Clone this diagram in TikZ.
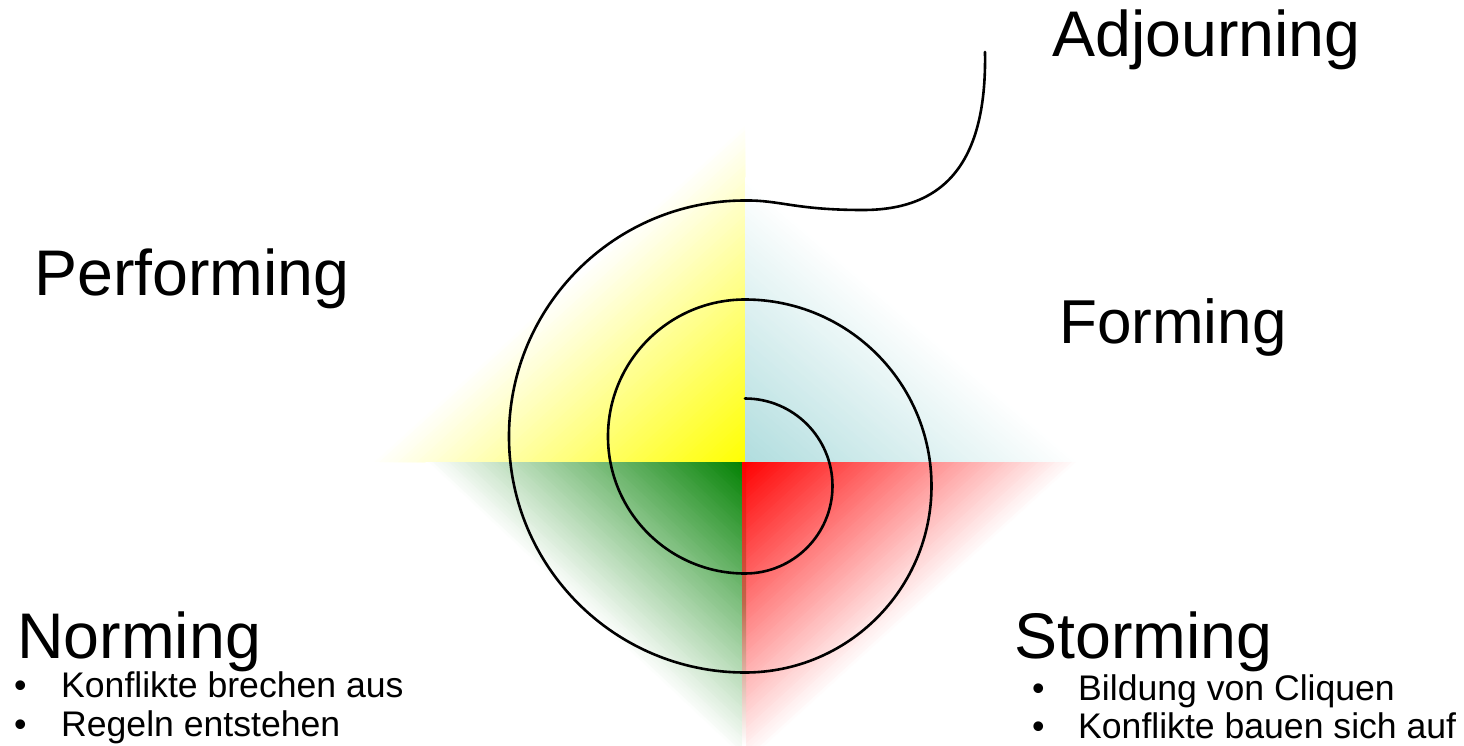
\documentclass[tikz,border=0pt]{standalone}
\usepackage{fontspec}
\setmainfont{Liberation Sans}

\definecolor{perfyellow}{RGB}{255,255,0}
\definecolor{formblue}{RGB}{176,221,222}
\definecolor{stormred}{RGB}{255,0,0}
\definecolor{normgreen}{RGB}{0,128,0}
\definecolor{seam}{RGB}{190,105,75}

% one quadrant, colour fading out towards the diagonal
\newcommand{\quadfade}[3]{
    \foreach \k in {80,79,...,1}{
        \pgfmathtruncatemacro{\mix}{100-(\k-0.5)*1.25}
        \fill[#1!\mix!white] (0,0) -- ({#2/80*\k},0) -- (0,{#3/80*\k}) -- cycle;
    }
}
\tikzset{x=1pt, y=1pt, every node/.append style={inner sep=0pt},
    bigname/.style={font=\fontsize{64.5}{72}\selectfont, anchor=base west},
    itemtext/.style={font=\fontsize{35.6}{40}\selectfont, anchor=base west},
    spiralline/.style={line width=2.6pt, line cap=round}}

\begin{document}
\begin{tikzpicture}
    \useasboundingbox (-745,-283) rectangle (719,462);
    % quadrants
    \quadfade{perfyellow}{-375}{340}
    \quadfade{formblue}{335}{285}
    \quadfade{normgreen}{-320}{-300}
    \quadfade{stormred}{335}{-305}
    \shade[top color=stormred, bottom color=white, middle color=seam] (-3,0) rectangle (1,-283);
    % spiral
    \draw[spiralline] (0,63.5) arc (90:-90:87.5) arc (270:90:137)
        arc (90:-90:186.5) arc (270:90:236)
        .. controls (35,262) and (50,252) .. (118,252)
        .. controls (200,252) and (242,300) .. (240,410) coordinate (tail);
    % stages
    \node[bigname] (adjourning) at (307,405) {Adjourning};
    \node[bigname] (performing) at (-711,167) {Performing};
    \node[bigname, font=\fontsize{62}{70}\selectfont] (forming) at (314,119) {Forming};
    \node[bigname] (norming) at (-728,-196) {Norming};
    \node[bigname] (storming) at (269,-196) {Storming};
    \node[itemtext] (norm1) at (-731,-235) {\makebox[47pt][l]{\textbullet}Konflikte brechen aus};
    \node[itemtext] (norm2) at (-731,-274) {\makebox[47pt][l]{\textbullet}Regeln entstehen};
    \node[itemtext] (storm1) at (287,-238) {\makebox[46pt][l]{\textbullet}Bildung von Cliquen};
    \node[itemtext] (storm2) at (287,-276) {\makebox[46pt][l]{\textbullet}Konflikte bauen sich auf};
\end{tikzpicture}
\end{document}
